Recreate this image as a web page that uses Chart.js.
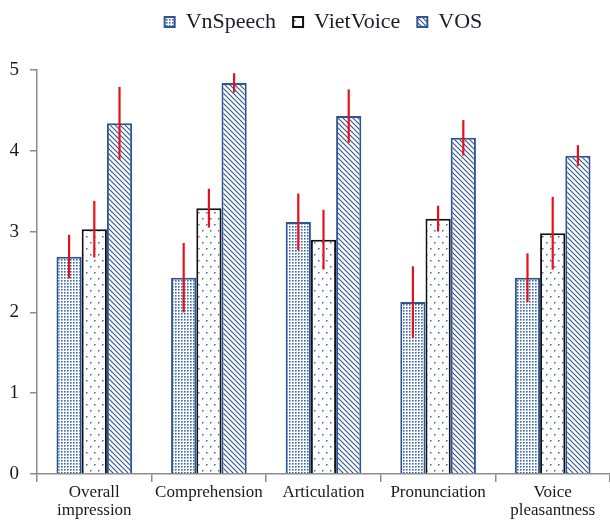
<!DOCTYPE html>
<html>
<head>
<meta charset="utf-8">
<script src="https://cdn.jsdelivr.net/npm/chart.js@4"></script>
<style>
  html, body { margin: 0; padding: 0; background: #fff; }
  #wrap { width: 610px; height: 523px; }
</style>
</head>
<body>
<div id="wrap"><canvas id="c" width="610" height="523"></canvas></div>
<script>
const categories = [['Overall', 'impression'], ['Comprehension'], ['Articulation'], ['Pronunciation'], ['Voice', 'pleasantness']];
const seriesNames = ['VnSpeech', 'VietVoice', 'VOS'];
const vnSpeech = [2.69, 2.43, 3.12, 2.13, 2.43];
const vietVoice = [3.03, 3.29, 2.90, 3.16, 2.98];
const vos = [4.34, 4.84, 4.43, 4.16, 3.94];
const vnSpeechErr = [0.27, 0.43, 0.35, 0.44, 0.30];
const vietVoiceErr = [0.35, 0.24, 0.37, 0.16, 0.45];
const vosErr = [0.45, 0.12, 0.33, 0.22, 0.13];
const yTicks = [0, 1, 2, 3, 4, 5];

const BLUE = '#2d5592';
const DOT = '#3a68a8';

function makePattern(kind) {
  const c = document.createElement('canvas');
  const x = c.getContext('2d');
  if (kind === 'dense') {
    c.width = 3; c.height = 3;
    x.fillStyle = '#ffffff'; x.fillRect(0, 0, 3, 3);
    x.fillStyle = DOT; x.fillRect(1, 1, 1.6, 1.6);
  } else if (kind === 'sparse') {
    c.width = 8; c.height = 12;
    x.fillStyle = '#ffffff'; x.fillRect(0, 0, 8, 12);
    x.fillStyle = DOT;
    x.fillRect(2, 2, 1.5, 1.5);
    x.fillRect(6, 8, 1.5, 1.5);
  } else {
    c.width = 5; c.height = 5;
    x.fillStyle = '#ffffff'; x.fillRect(0, 0, 5, 5);
    x.strokeStyle = BLUE; x.lineWidth = 1.1;
    x.beginPath();
    x.moveTo(-1, -1); x.lineTo(6, 6);
    x.moveTo(-1, 4); x.lineTo(1, 6);
    x.moveTo(4, -1); x.lineTo(6, 1);
    x.stroke();
  }
  return x.createPattern(c, 'repeat');
}

const errorBars = {
  id: 'errorBars',
  afterDatasetsDraw(chart) {
    const ctx = chart.ctx;
    const yScale = chart.scales.y;
    ctx.save();
    ctx.strokeStyle = '#e8101a';
    ctx.lineWidth = 2.2;
    chart.data.datasets.forEach((ds, i) => {
      const meta = chart.getDatasetMeta(i);
      meta.data.forEach((bar, j) => {
        const v = ds.data[j], e = ds.errors[j];
        ctx.beginPath();
        ctx.moveTo(bar.x, yScale.getPixelForValue(v + e));
        ctx.lineTo(bar.x, yScale.getPixelForValue(v - e));
        ctx.stroke();
      });
    });
    ctx.restore();
  }
};

const legendSpacer = {
  id: 'legendSpacer',
  beforeInit(chart) {
    const orig = chart.legend.fit;
    chart.legend.fit = function () {
      orig.bind(chart.legend)();
      this.height = 76;
    };
  }
};

const SERIF = '"Liberation Serif", "Times New Roman", serif';

new Chart(document.getElementById('c'), {
  type: 'bar',
  data: {
    labels: categories,
    datasets: [
      { label: seriesNames[0], data: vnSpeech, errors: vnSpeechErr, backgroundColor: makePattern('dense'), borderColor: BLUE, borderWidth: 2 },
      { label: seriesNames[1], data: vietVoice, errors: vietVoiceErr, backgroundColor: makePattern('sparse'), borderColor: '#111111', borderWidth: 2 },
      { label: seriesNames[2], data: vos, errors: vosErr, backgroundColor: makePattern('hatch'), borderColor: BLUE, borderWidth: 2 }
    ]
  },
  options: {
    responsive: false,
    animation: false,
    devicePixelRatio: 1,
    layout: { padding: { top: -6, left: 0, right: 0, bottom: 0 } },
    datasets: { bar: { categoryPercentage: 0.66, barPercentage: 1.0 } },
    plugins: {
      legend: {
        position: 'top',
        fullSize: false,
        labels: {
          boxWidth: 10, boxHeight: 10, padding: 17,
          color: '#1b1b2b',
          font: { family: SERIF, size: 22 }
        }
      },
      tooltip: { enabled: false }
    },
    scales: {
      x: {
        offset: true,
        grid: { offset: true, drawOnChartArea: false, drawTicks: true, tickLength: 8, color: '#8c8c8c', lineWidth: 1.5 },
        border: { color: '#8c8c8c', width: 1.5 },
        ticks: { color: '#1a1a1a', padding: 2, maxRotation: 0, autoSkip: false, font: { family: SERIF, size: 17, lineHeight: 1.06 } },
        afterFit(s) { s.height = 49; }
      },
      y: {
        min: 0, max: 5,
        afterBuildTicks(s) { s.ticks = yTicks.map(v => ({ value: v })); },
        grid: { drawOnChartArea: false, drawTicks: true, tickLength: 7, color: '#8c8c8c', lineWidth: 1.5 },
        border: { color: '#8c8c8c', width: 1.5 },
        ticks: { color: '#1a1a1a', padding: 11, font: { family: SERIF, size: 19 } },
        afterFit(s) { s.width = 37; }
      }
    }
  },
  plugins: [errorBars, legendSpacer]
});
</script>
</body>
</html>
